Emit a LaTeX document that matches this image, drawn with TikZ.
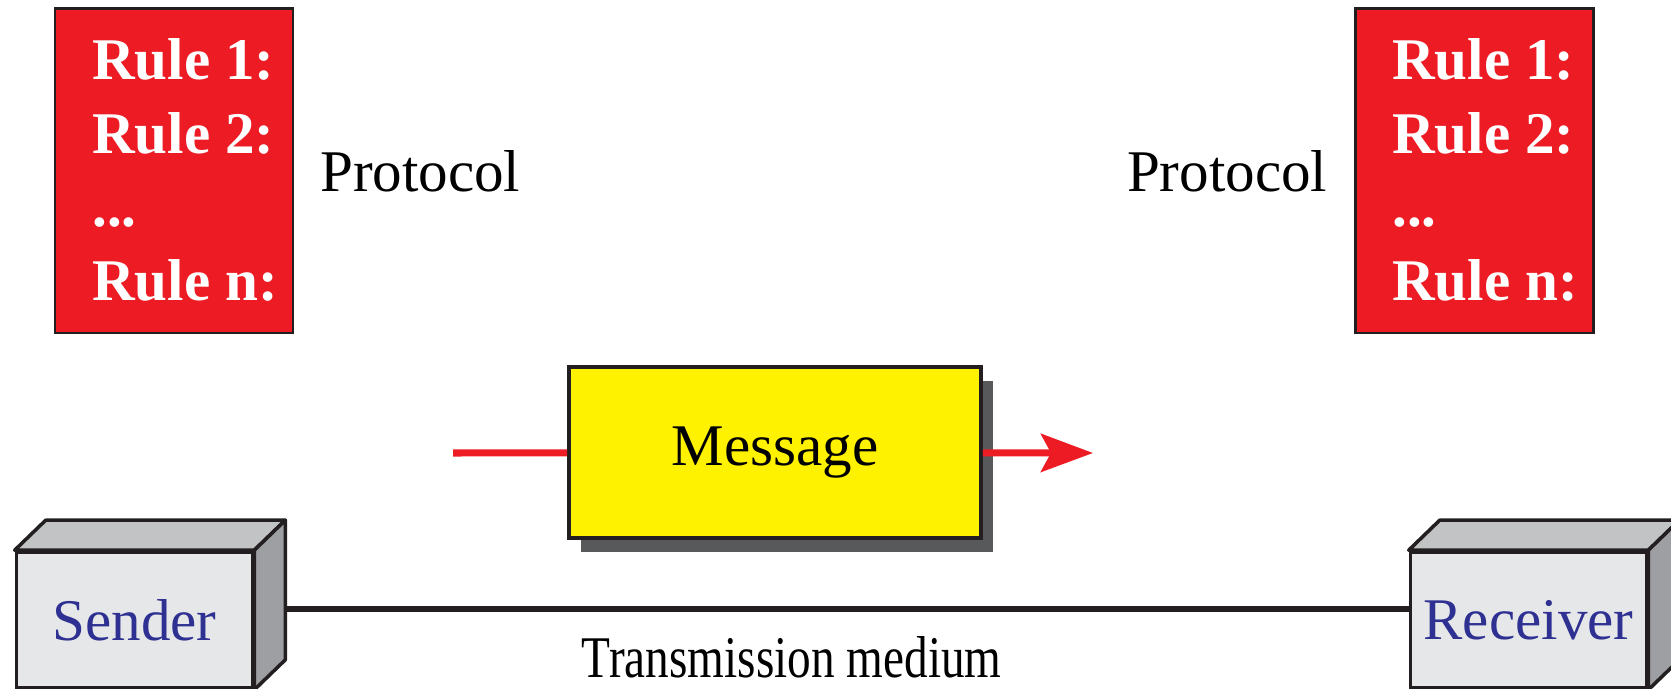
\documentclass[tikz,border=0pt]{standalone}
\usepackage{fontspec}
\setmainfont{Liberation Serif}
\usepackage{graphicx}
\usepackage{tikz}
\usetikzlibrary{calc, arrows.meta, positioning, shadows}

\definecolor{rulered}{HTML}{ED1C24}
\definecolor{msgyellow}{HTML}{FFF200}
\definecolor{shadowgray}{HTML}{58595B}
\definecolor{boxfront}{HTML}{E6E7E8}
\definecolor{boxtop}{HTML}{C2C3C5}
\definecolor{boxside}{HTML}{9D9FA2}
\definecolor{hostblue}{HTML}{2E3192}
\definecolor{edgeblack}{HTML}{231F20}

\begin{document}
\begin{tikzpicture}[x=0.01cm, y=-0.01cm,
    rules/.style={draw=edgeblack, line width=0.8pt, fill=rulered,
                  minimum width=2.38cm, minimum height=3.24cm, inner sep=0pt},
    rtext/.style={text=white, align=left, inner sep=0pt,
                  font=\fontsize{16.8}{21}\selectfont\bfseries},
    lbl/.style={inner sep=0pt, font=\fontsize{16.8}{20}\selectfont},
    msg/.style={draw=edgeblack, line width=1pt, fill=msgyellow, lbl,
                minimum width=4.12cm, minimum height=1.71cm,
                drop shadow={shadow xshift=0.12cm, shadow yshift=-0.14cm,
                             fill=shadowgray, opacity=1}},
    host/.style={draw=edgeblack, line width=1pt, fill=boxfront, lbl,
                 text=hostblue, minimum width=2.36cm, minimum height=1.36cm},
    hosttop/.style={draw=edgeblack, line width=1pt, fill=boxtop, line join=round},
    hostside/.style={draw=edgeblack, line width=1pt, fill=boxside, line join=round},
    flow/.style={draw=rulered, line width=2pt},
    medium/.style={draw=edgeblack, line width=1.5pt}
]
    \useasboundingbox (0,0) rectangle (1671,689);

    % protocols on both sides
    \node[rules] (lr) at (174,171) {};
    \node[rtext] (lrt) at (185,170) {Rule 1:\\Rule 2:\\...\\Rule n:};
    \node[lbl, right=0.25cm of lr] (lp) {Protocol};

    \node[rules] (rr) at (1474.5,171) {};
    \node[rtext] (rrt) at (1485,170) {Rule 1:\\Rule 2:\\...\\Rule n:};
    \node[lbl, left=0.26cm of rr] (rp) {Protocol};

    % message
    \coordinate (fin) at (453,453);
    \coordinate (fout) at (1093,453);
    \node[msg] (msg) at (775,452.5) {Message};
    \draw[flow] (fin) -- (msg);
    \draw[flow, -{Stealth[length=0.52cm, width=0.38cm, inset=0.1cm]}] (msg) -- (fout);

    % sender and receiver
    \node[host] (snd) at (134.5,620) {Sender};
    \draw[hosttop] (snd.north west) -- ++(31,-30) -- ($(snd.north east)+(31,-30)$)
        -- (snd.north east) -- cycle;
    \draw[hostside] (snd.north east) -- ++(31,-30) -- ($(snd.south east)+(31,-30)$)
        -- (snd.south east) -- cycle;

    \node[host] (rcv) at (1528.5,620) {Receiver};
    \draw[hosttop] (rcv.north west) -- ++(31,-30) -- ($(rcv.north east)+(31,-30)$)
        -- (rcv.north east) -- cycle;
    \draw[hostside] (rcv.north east) -- ++(31,-30) -- ($(rcv.south east)+(31,-30)$)
        -- (rcv.south east) -- cycle;

    \coordinate (tx) at (287,609);
    \draw[medium] (tx) -- node[pos=0.45, below=0.25cm, lbl] (tm)
        {\scalebox{0.8}[1]{Transmission medium}} (tx -| rcv.west);
\end{tikzpicture}
\end{document}
